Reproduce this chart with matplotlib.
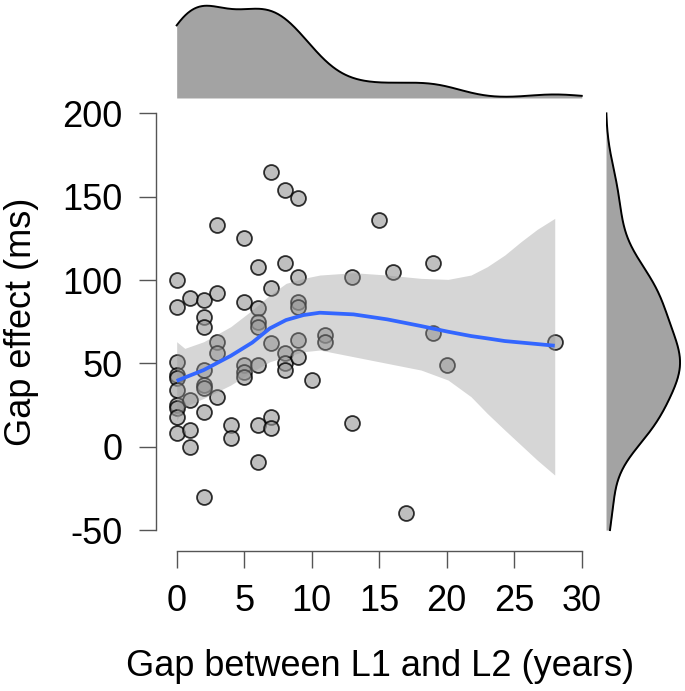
import numpy as np
import matplotlib
matplotlib.use("Agg")
import matplotlib.pyplot as plt

plt.rcParams['font.family'] = ['Liberation Sans', 'DejaVu Sans']
plt.rcParams['axes.unicode_minus'] = False

# gap between L1 and L2 (years) and gap effect (ms)
gap_years = [0, 0, 0, 0, 0, 0, 0, 0, 0, 0,
             1, 1, 1, 1,
             2, 2, 2, 2, 2, 2, 2, 2,
             3, 3, 3, 3, 3,
             4, 4,
             5, 5, 5, 5, 5,
             6, 6, 6, 6, 6, 6, 6,
             7, 7, 7, 7, 7,
             8, 8, 8, 8, 8,
             9, 9, 9, 9, 9, 9,
             10, 11, 11, 13, 13, 15, 16, 17, 19, 19, 20, 28]
gap_effect = [100, 84, 51, 43, 41, 34, 25, 23, 18, 8,
              89, 28, 10, 0,
              88, 78, 72, 46, 37, 35, 21, -30,
              133, 92, 63, 56, 30,
              13, 5,
              125, 87, 49, 45, 42,
              108, 83, 75, 72, 49, 13, -9,
              165, 95, 62, 18, 11,
              154, 110, 56, 50, 46,
              149, 102, 87, 84, 64, 54,
              40, 67, 63, 102, 14, 136, 105, -40, 110, 68, 49, 63]

# loess smooth and its confidence band
smooth_x = [0, 0.6, 2, 4, 5.6, 6.9, 8.1, 9.4, 10.6, 13.1, 15.6, 18.1, 20.1,
            21.8, 23.0, 24.3, 25.5, 26.7, 28]
smooth_y = [39.5, 41.5, 46, 54.5, 62.5, 71, 76, 79, 80.4, 79.4, 76.4, 72.4, 69,
            66.4, 65, 63.4, 62.5, 61.6, 60.6]
ci_low = [16, 24, 29, 37, 45, 51, 54, 57, 58, 54, 50, 46, 40,
          30, 20, 10, 1, -8, -17]
ci_high = [63, 59, 63, 72, 82, 91, 98, 101, 103, 104.4, 103, 101, 100.4,
           103, 108, 115, 123, 130.4, 137]


def density(v, lo, hi):
    v = np.asarray(v, dtype=float)
    n = len(v)
    iqr = np.subtract(*np.percentile(v, [75, 25]))
    bw = 0.9 * min(v.std(ddof=1), iqr / 1.34) * n ** -0.2
    grid = np.linspace(lo, hi, 512)
    d = np.exp(-0.5 * ((grid[:, None] - v[None, :]) / bw) ** 2).sum(axis=1)
    return grid, d / (n * bw * np.sqrt(2 * np.pi))


fig = plt.figure(figsize=(6.85, 6.91), dpi=100)
xlim = (-1.533, 30.5)
ylim = (-62.4, 205)

ax = fig.add_axes([0.2277, 0.2030, 0.6314, 0.6450])
ax.scatter(gap_years, gap_effect, s=115, facecolor=(0.6, 0.6, 0.6, 0.62),
           edgecolor=(0, 0, 0, 0.8), linewidth=1.3, zorder=2)
ax.fill_between(smooth_x, ci_low, ci_high, color='#999999', alpha=0.4,
                linewidth=0, zorder=3)
ax.plot(smooth_x, smooth_y, color='#3366FF', lw=2.7, zorder=4, solid_capstyle='butt')

ax.set_xlim(xlim)
ax.set_ylim(ylim)
ax.set_xticks([0, 5, 10, 15, 20, 25, 30])
ax.set_yticks([-50, 0, 50, 100, 150, 200])
for s in ['top', 'right']:
    ax.spines[s].set_visible(False)
ax.spines['left'].set_bounds(-50, 200)
ax.spines['bottom'].set_bounds(0, 30)
for s in ['left', 'bottom']:
    ax.spines[s].set_color('#555555')
    ax.spines[s].set_linewidth(1.0)
ax.tick_params(length=12.2, width=1.0, color='#555555', pad=12, labelsize=26,
               labelcolor='black')

fig.text(22 / 685, 1 - 322 / 691, 'Gap effect (ms)', rotation=90,
         ha='center', va='center', fontsize=26)
fig.text(380 / 685, 1 - 667 / 691, 'Gap between L1 and L2 (years)',
         ha='center', va='center', fontsize=26)

# top marginal density
axt = fig.add_axes([0.2277, 0.8582, 0.6314, 0.1375])
gx, dx = density(gap_years, 0, 30)
axt.fill_between(gx, 0, dx, color='#A3A3A3', linewidth=0)
axt.plot(gx, dx, color='black', lw=1.4)
axt.set_xlim(xlim)
axt.set_ylim(0, dx.max() * 1.03)
axt.axis('off')

# right marginal density
axr = fig.add_axes([0.8847, 0.2030, 0.1124, 0.6450])
gy, dy = density(gap_effect, -50, 200)
axr.fill_betweenx(gy, 0, dy, color='#A3A3A3', linewidth=0)
axr.plot(dy, gy, color='black', lw=1.4)
axr.set_ylim(ylim)
axr.set_xlim(0, dy.max() * 1.04)
axr.axis('off')

fig.savefig('out.png', dpi=100)
